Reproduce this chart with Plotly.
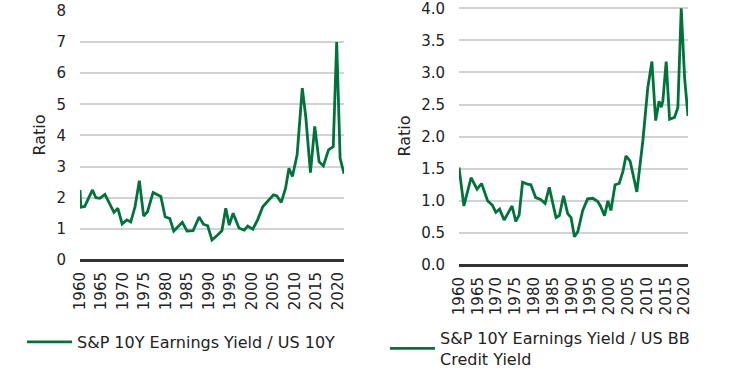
import plotly.graph_objects as go

# Left panel: S&P 10Y Earnings Yield / US 10Y
left_years = [1960.0, 1960.2, 1961.1, 1962.9, 1963.7, 1964.6, 1965.8, 1966.8, 1967.9, 1968.8,
              1969.8, 1970.9, 1971.8, 1972.8, 1973.8, 1974.8, 1975.7, 1977.0, 1977.9, 1978.8,
              1979.8, 1980.9, 1981.8, 1983.8, 1984.9, 1986.3, 1987.7, 1988.7, 1989.7, 1990.7,
              1992.0, 1993.0, 1993.9, 1994.7, 1995.6, 1997.0, 1998.2, 1999.0, 2000.2, 2001.3,
              2002.5, 2003.7, 2005.0, 2005.8, 2006.8, 2007.8, 2008.6, 2009.4, 2010.5, 2011.7,
              2012.5, 2013.6, 2014.6, 2015.6, 2016.6, 2017.8, 2018.9, 2019.7, 2020.5, 2021.4]
left_ratio = [2.25, 1.70, 1.72, 2.25, 2.00, 1.98, 2.11, 1.84, 1.53, 1.66,
              1.16, 1.29, 1.22, 1.71, 2.55, 1.41, 1.55, 2.17, 2.10, 2.04,
              1.39, 1.33, 0.93, 1.21, 0.93, 0.94, 1.38, 1.15, 1.10, 0.64,
              0.80, 0.94, 1.66, 1.12, 1.50, 1.02, 0.96, 1.09, 0.99, 1.29,
              1.71, 1.88, 2.09, 2.06, 1.85, 2.30, 2.95, 2.68, 3.38, 5.52,
              4.61, 2.81, 4.29, 3.16, 3.02, 3.54, 3.64, 7.00, 3.27, 2.77]

# Right panel: S&P 10Y Earnings Yield / US BB Credit Yield
right_years = [1960.0, 1961.3, 1963.2, 1964.8, 1966.0, 1967.6, 1968.9, 1969.8, 1970.8, 1972.0,
               1974.1, 1975.1, 1976.0, 1976.9, 1978.2, 1979.1, 1980.4, 1981.7, 1982.9, 1984.0,
               1985.8, 1986.7, 1987.8, 1988.9, 1989.8, 1990.7, 1991.6, 1992.9, 1994.2, 1995.6,
               1996.9, 1997.6, 1998.7, 1999.6, 2000.4, 2001.5, 2002.6, 2003.6, 2004.4, 2005.5,
               2007.3, 2008.9, 2010.2, 2011.3, 2012.3, 2013.2, 2013.8, 2014.2, 2015.1, 2016.0,
               2017.3, 2018.2, 2019.1, 2020.0, 2020.9]
right_ratio = [1.52, 0.92, 1.36, 1.18, 1.27, 1.00, 0.93, 0.82, 0.87, 0.70,
               0.92, 0.68, 0.78, 1.29, 1.26, 1.25, 1.05, 1.02, 0.96, 1.21,
               0.74, 0.77, 1.08, 0.80, 0.74, 0.44, 0.52, 0.85, 1.03, 1.04,
               0.99, 0.92, 0.77, 1.00, 0.85, 1.25, 1.27, 1.46, 1.70, 1.62,
               1.14, 1.94, 2.76, 3.17, 2.25, 2.55, 2.46, 2.55, 3.17, 2.27,
               2.30, 2.45, 4.00, 2.91, 2.32]

x_ticks = [1960, 1965, 1970, 1975, 1980, 1985, 1990, 1995, 2000, 2005, 2010, 2015, 2020]
left_name = "S&P 10Y Earnings Yield / US 10Y"
right_name = "S&P 10Y Earnings Yield / US BB<br>Credit Yield"

GREEN = "#00733c"
TEXT = "#222222"
GRID = "#d2d2d2"
FONT = "DejaVu Sans"
W, H = 740, 372

fig = go.Figure()
fig.add_trace(go.Scatter(x=left_years, y=left_ratio, mode="lines", name=left_name,
                         line=dict(color=GREEN, width=2.8), xaxis="x", yaxis="y",
                         legend="legend"))
fig.add_trace(go.Scatter(x=right_years, y=right_ratio, mode="lines", name=right_name,
                         line=dict(color=GREEN, width=2.8), xaxis="x2", yaxis="y2",
                         legend="legend2"))

common_x = dict(tickvals=x_ticks, tickangle=-90, showgrid=False, zeroline=False,
                showline=False, ticks="", automargin=False, ticklabelstandoff=8,
                ticklabeloverflow="allow",
                tickfont=dict(size=15, color=TEXT, family=FONT))
common_y = dict(showgrid=True, gridcolor=GRID, gridwidth=1.5, zeroline=True,
                zerolinecolor="#333333", zerolinewidth=3, showline=False, ticks="",
                automargin=False, ticklabelstandoff=13, ticklabeloverflow="allow",
                tickfont=dict(size=15, color=TEXT, family=FONT),
                title=dict(text="Ratio", font=dict(size=16, color=TEXT, family=FONT)))

fig.update_layout(
    width=W, height=H,
    margin=dict(l=0, r=0, t=0, b=0, autoexpand=False),
    paper_bgcolor="white", plot_bgcolor="white",
    font=dict(family=FONT, color=TEXT),
    xaxis=dict(domain=[80 / W, 344 / W], range=[1960, 2021.4], anchor="y", **common_x),
    yaxis=dict(domain=[(H - 260) / H, (H - 10) / H], range=[0, 8.03], dtick=1,
               anchor="x", title_standoff=6, **common_y),
    xaxis2=dict(domain=[459 / W, 688 / W], range=[1960, 2020.9], anchor="y2", **common_x),
    yaxis2=dict(domain=[(H - 265) / H, (H - 7) / H], range=[0, 4.02], dtick=0.5,
                tickformat=".1f", anchor="x2", title_standoff=6, **common_y),
    showlegend=True,
    legend=dict(x=22 / W, y=(H - 325) / H, xanchor="left", yanchor="top", itemwidth=45,
                bgcolor="rgba(0,0,0,0)", font=dict(size=16, color=TEXT, family=FONT)),
    legend2=dict(x=385 / W, y=(H - 321) / H, xanchor="left", yanchor="top", itemwidth=45,
                 bgcolor="rgba(0,0,0,0)", font=dict(size=16, color=TEXT, family=FONT)),
)

fig.write_html("out.html", config={"displayModeBar": False},
               post_script="document.body.style.margin='0';")
